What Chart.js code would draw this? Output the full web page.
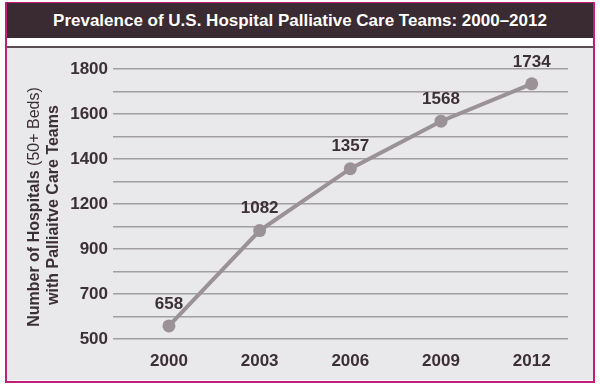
<!DOCTYPE html>
<html>
<head>
<meta charset="utf-8">
<script src="https://cdn.jsdelivr.net/npm/chart.js@4"></script>
<style>
  html, body { margin: 0; padding: 0; background: #ffffff; }
  #wrap { position: relative; width: 600px; height: 385px; overflow: hidden; }
  #frame { position: absolute; left: 5px; top: 2px; width: 590px; height: 381px; box-sizing: border-box;
           border: 2px solid #c01f7a; border-top-width: 1px; background: #ffffff; }
  #titlebar { position: absolute; left: 7px; top: 3px; width: 586px; height: 35px; background: #3a2a31;
              color: #ffffff; font: bold 17px "Liberation Sans", Arial, sans-serif; text-align: center; line-height: 36px; }
  #rule { position: absolute; left: 7px; top: 46px; width: 586px; height: 2px; background: #5a4c53; }
  #panel { position: absolute; left: 7px; top: 48px; width: 586px; height: 332px; background: #e9e8ea; }
  canvas { position: absolute; left: 0; top: 0; }
</style>
</head>
<body>
<div id="wrap">
  <div id="frame"></div>
  <div id="titlebar">Prevalence of U.S. Hospital Palliative Care Teams: 2000–2012</div>
  <div id="rule"></div>
  <div id="panel"></div>
  <canvas id="c" width="600" height="385"></canvas>
</div>
<script>
// ---- data ----
const years = [2000, 2003, 2006, 2009, 2012];
const hospitals = [658, 1082, 1357, 1568, 1734];
const yTickLabels = ['500', '700', '900', '1200', '1400', '1600', '1800'];
const yTitleLine1Bold = 'Number of Hospitals ';
const yTitleLine1Normal = '(50+ Beds)';
const yTitleLine2 = 'with Palliaitve Care Teams';

const narrow = '"Liberation Sans Narrow", "Liberation Sans", Arial, sans-serif';
const regular = '"Liberation Sans", Arial, sans-serif';
const textColor = '#3b3036';
const lineColor = '#9a9297';

const pointLabels = {
  id: 'pointLabels',
  afterDatasetsDraw(chart) {
    const ctx = chart.ctx;
    const meta = chart.getDatasetMeta(0);
    ctx.save();
    ctx.font = 'bold 17px ' + narrow;
    ctx.fillStyle = textColor;
    ctx.textAlign = 'center';
    ctx.textBaseline = 'middle';
    meta.data.forEach((pt, i) => {
      ctx.fillText(String(hospitals[i]), pt.x, pt.y - 22);
    });
    ctx.restore();
  }
};

const yTitle = {
  id: 'yTitle',
  afterDraw(chart) {
    const ctx = chart.ctx;
    const cy = 207;
    ctx.save();
    ctx.fillStyle = textColor;
    ctx.textBaseline = 'alphabetic';
    ctx.save();
    ctx.translate(39, cy);
    ctx.rotate(-Math.PI / 2);
    ctx.font = 'bold 16px ' + regular;
    const w1 = ctx.measureText(yTitleLine1Bold).width;
    ctx.font = '16px ' + regular;
    const w2 = ctx.measureText(yTitleLine1Normal).width;
    const start = -(w1 + w2) / 2;
    ctx.textAlign = 'left';
    ctx.font = 'bold 16px ' + regular;
    ctx.fillText(yTitleLine1Bold, start, 0);
    ctx.font = '16px ' + regular;
    ctx.fillText(yTitleLine1Normal, start + w1, 0);
    ctx.restore();
    ctx.save();
    ctx.translate(57.5, cy - 2);
    ctx.rotate(-Math.PI / 2);
    ctx.font = 'bold 16px ' + regular;
    ctx.textAlign = 'center';
    ctx.fillText(yTitleLine2, 0, 0);
    ctx.restore();
    ctx.restore();
  }
};

new Chart(document.getElementById('c'), {
  type: 'line',
  data: {
    datasets: [{
      data: years.map((y, i) => ({ x: y, y: hospitals[i] })),
      borderColor: lineColor,
      backgroundColor: lineColor,
      borderWidth: 4,
      pointRadius: 6.5,
      pointBackgroundColor: lineColor,
      pointBorderWidth: 0,
      tension: 0,
      fill: false
    }]
  },
  options: {
    responsive: false,
    animation: false,
    events: [],
    layout: { padding: { left: 0, right: 32, top: 69, bottom: 0 } },
    plugins: { legend: { display: false }, title: { display: false }, tooltip: { enabled: false } },
    scales: {
      x: {
        type: 'linear',
        min: 1998.15,
        max: 2013.2,
        afterBuildTicks(scale) { scale.ticks = years.map(v => ({ value: v })); },
        afterFit(scale) { scale.height = 46; },
        grid: { display: false, drawTicks: false },
        border: { display: false },
        ticks: {
          autoSkip: false,
          maxRotation: 0,
          padding: 12,
          color: textColor,
          font: { family: narrow, size: 17, weight: 'bold' },
          callback: (v) => String(v)
        }
      },
      y: {
        type: 'linear',
        min: 600,
        max: 1800,
        afterFit(scale) { scale.width = 113; },
        grid: { color: '#a29ea2', lineWidth: 1.5, drawTicks: false },
        border: { display: false },
        ticks: {
          stepSize: 100,
          autoSkip: false,
          padding: 5,
          color: textColor,
          font: { family: narrow, size: 17, weight: 'bold' },
          callback: (v) => {
            const k = (v - 600) / 200;
            return Number.isInteger(k) ? yTickLabels[k] : '';
          }
        }
      }
    }
  },
  plugins: [pointLabels, yTitle]
});
</script>
</body>
</html>
